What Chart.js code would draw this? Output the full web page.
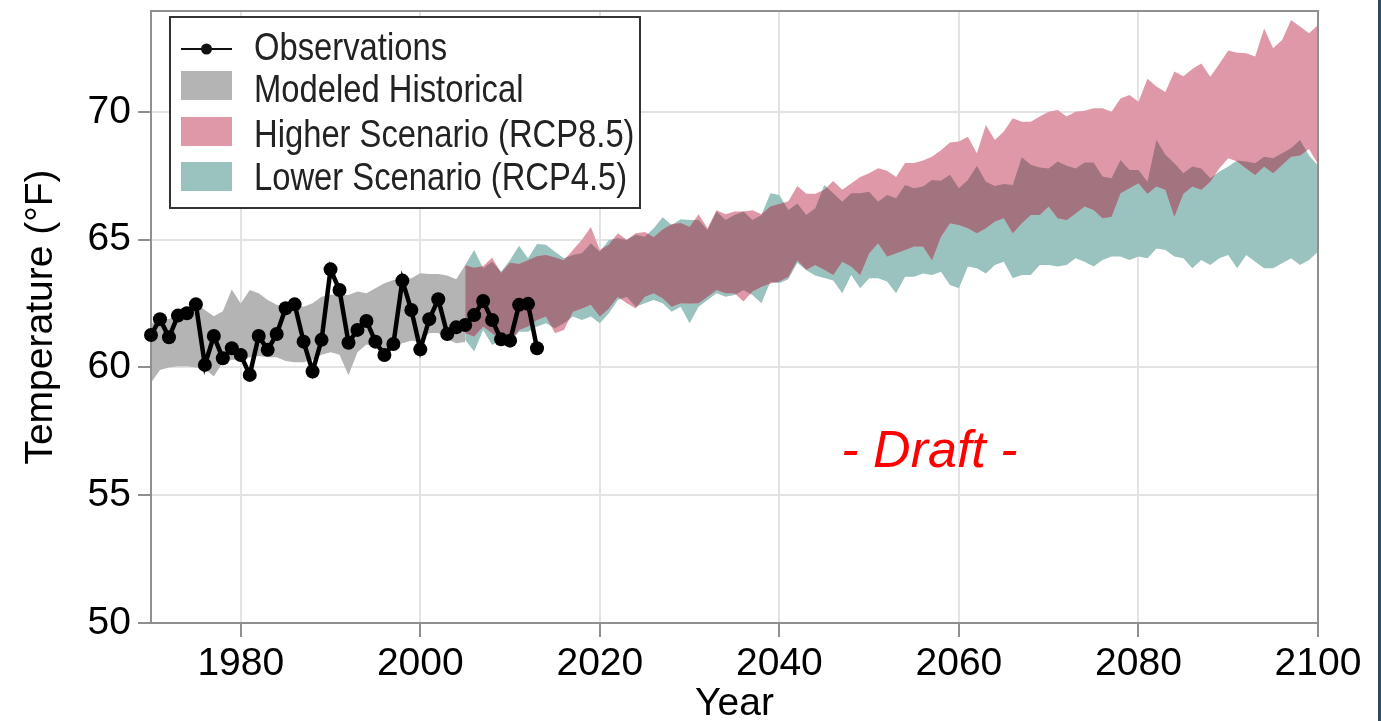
<!DOCTYPE html>
<html>
<head>
<meta charset="utf-8">
<title>Annual Temperature</title>
<script src="https://cdn.jsdelivr.net/npm/chart.js@4.4.1/dist/chart.umd.min.js"></script>
<style>
  html, body { margin: 0; padding: 0; background: #ffffff; overflow: hidden; }
  canvas { display: block; }
</style>
</head>
<body>
<canvas id="chart" width="1381" height="721"></canvas>
<script>
// ---- Data -------------------------------------------------------------
const obsStart = 1970;
const obsTemps = [
  61.27, 61.89, 61.18, 62.03, 62.12, 62.47, 60.10, 61.23, 60.36, 60.75,
  60.49, 59.71, 61.23, 60.69, 61.31, 62.32, 62.47, 61.01, 59.84, 61.08,
  63.84, 63.03, 60.97, 61.47, 61.82, 61.01, 60.49, 60.92, 63.40, 62.25,
  60.71, 61.89, 62.67, 61.31, 61.57, 61.66, 62.05, 62.60, 61.86, 61.10,
  61.05, 62.45, 62.49, 60.75
];

const histStart = 1970;
const histHigh = [
  61.7, 61.9, 61.9, 62.1, 62.2, 62.5, 62.25, 62.0, 62.2, 63.05,
  62.5, 63.03, 62.9, 62.64, 62.45, 62.38, 62.45, 62.38, 62.51, 62.77,
  62.85, 62.85, 62.84, 62.97, 62.9, 63.1, 63.3, 63.42, 63.49, 63.49,
  63.69, 63.66, 63.66, 63.6, 63.45, 64.0
];
const histLow = [
  59.4, 59.9, 60.0, 60.05, 60.05, 60.0, 59.95, 59.65, 60.2, 60.3,
  60.3, 60.4, 60.45, 60.4, 60.4, 60.25, 60.2, 60.2, 60.3, 60.5,
  60.6, 60.5, 59.7, 60.6, 60.9, 60.8, 60.7, 60.85, 60.95, 61.05,
  61.0, 61.35, 61.35, 61.1, 60.95, 61.0
];

const projStart = 2005;
const rcp85High = [
  64.0, 63.9, 63.96, 64.3, 63.7, 64.1, 64.05, 64.2, 64.35, 64.4,
  64.3, 64.2, 64.6, 65.0, 65.5, 64.6, 64.8, 65.25, 65.0, 65.25,
  65.3, 65.1, 65.4, 65.6, 65.65, 65.5, 66.0, 65.45, 66.15, 66.0,
  66.1, 66.1, 66.15, 66.0, 66.3, 66.4, 66.5, 67.1, 66.8, 66.8,
  66.95, 67.3, 66.95, 67.2, 67.45, 67.6, 67.8, 67.7, 67.45, 68.0,
  68.0, 68.1, 68.25, 68.5, 68.8, 68.84, 69.03, 68.38, 69.49, 68.9,
  69.23, 69.75, 69.62, 69.62, 69.82, 70.01, 70.08, 69.82, 70.01, 70.05,
  70.14, 70.14, 70.01, 70.53, 70.66, 70.4, 71.3, 71.0, 70.78, 71.58,
  71.4, 71.68, 71.9, 71.38, 71.88, 72.4, 72.32, 72.3, 72.17, 73.27,
  72.49, 72.82, 73.6, 73.34, 73.08, 73.4
];
const rcp85Low = [
  61.34, 61.21, 61.6, 61.34, 61.08, 61.01, 61.47, 61.6, 61.86, 61.99,
  61.34, 61.47, 62.18, 62.31, 62.45, 61.99, 62.31, 62.77, 62.51, 62.31,
  62.77, 62.9, 62.71, 62.38, 62.51, 62.5, 62.51, 62.77, 63.03, 62.9,
  62.9, 62.58, 62.97, 63.16, 63.29, 63.36, 63.55, 64.2, 63.82, 64.01,
  63.82, 63.62, 64.14, 63.95, 63.62, 64.47, 64.86, 64.34, 64.47, 64.6,
  64.73, 64.73, 64.2, 65.12, 65.64, 65.58, 65.45, 65.25, 65.45, 65.71,
  65.84, 65.25, 65.64, 65.97, 65.97, 66.3, 65.84, 65.77, 66.03, 66.3,
  66.16, 65.84, 65.9, 66.82, 67.01, 67.21, 66.8, 67.08, 66.95, 65.9,
  66.8, 67.08, 66.95, 67.27, 67.79, 68.19, 68.06, 67.79, 67.53, 67.86,
  67.6, 67.92, 68.25, 68.3, 68.55, 67.95
];
const rcp45High = [
  64.01, 64.6, 63.88, 64.14, 63.75, 64.21, 64.76, 64.27, 64.83, 64.8,
  64.53, 64.27, 64.4, 64.47, 64.86, 64.53, 64.99, 65.06, 64.99, 65.19,
  65.12, 65.45, 65.88, 65.58, 65.8, 65.77, 65.77, 65.38, 66.1, 65.77,
  65.97, 66.1, 65.77, 65.97, 66.82, 66.75, 66.16, 66.42, 65.97, 66.23,
  67.14, 66.82, 66.49, 66.82, 66.82, 66.88, 66.49, 66.75, 66.62, 67.14,
  67.01, 67.08, 67.34, 67.31, 67.54, 67.01, 67.34, 67.89, 67.27, 67.1,
  67.18, 67.14, 68.23, 67.93, 67.83, 67.79, 68.06, 67.89, 67.79, 68.02,
  68.02, 67.47, 67.4, 68.12, 67.73, 67.73, 67.27, 68.9, 68.32, 67.99,
  67.6, 67.86, 67.79, 67.4, 67.66, 67.86, 68.1, 68.06, 67.99, 68.25,
  68.19, 68.38, 68.58, 68.9, 68.3, 67.9
];
const rcp45Low = [
  61.08, 60.62, 61.47, 60.88, 61.08, 61.01, 61.4, 61.4, 61.6, 61.73,
  61.53, 61.73, 61.99, 61.86, 61.99, 61.73, 62.12, 62.64, 62.77, 62.38,
  62.51, 62.64, 62.51, 62.18, 62.38, 61.73, 62.38, 62.64, 62.9, 62.77,
  62.84, 63.03, 62.84, 62.51, 63.35, 63.3, 63.45, 64.1, 63.8, 63.6,
  63.5, 63.4, 62.9, 63.62, 63.1, 63.49, 63.49, 63.36, 62.9, 63.55,
  63.55, 63.68, 63.62, 63.75, 63.23, 63.1, 63.95, 63.88, 63.68, 64.01,
  64.14, 63.49, 63.62, 63.62, 64.01, 64.01, 63.95, 64.01, 64.27, 64.14,
  63.95, 64.21, 64.34, 64.34, 64.21, 64.34, 64.27, 64.66, 64.6, 64.34,
  64.27, 63.88, 64.21, 64.01, 64.27, 64.4, 63.88, 64.4, 64.14, 63.88,
  63.88, 64.08, 64.27, 64.01, 64.21, 64.53
];

const xTicks = [1980, 2000, 2020, 2040, 2060, 2080, 2100];
const yTicks = [50, 55, 60, 65, 70];
const seriesNames = [
  'Observations',
  'Modeled Historical',
  'Higher Scenario (RCP8.5)',
  'Lower Scenario (RCP4.5)'
];
const draftLabel = '- Draft -';

// ---- Styling ----------------------------------------------------------
const FONT = "'Liberation Sans', Arial, Helvetica, sans-serif";
const GRAY = '#b4b4b4';
const PINK = '#df98a8';
const TEAL = '#9ac2be';
const MAUVE = '#a17480';
const GRID = '#e3e3e3';
const AXIS = '#8f8f8f';

const toPoints = (start, vals) => vals.map((v, i) => ({ x: start + i, y: v }));

const bandStyle = (color, fill) => ({
  fill: fill,
  backgroundColor: color,
  borderColor: 'rgba(0,0,0,0)',
  borderWidth: 1,
  pointRadius: 0,
  pointHoverRadius: 0,
  tension: 0
});

// ---- Plugins ----------------------------------------------------------
function bandPath(ctx, upper, lower) {
  ctx.beginPath();
  upper.forEach((p, i) => (i ? ctx.lineTo(p.x, p.y) : ctx.moveTo(p.x, p.y)));
  for (let i = lower.length - 1; i >= 0; i--) ctx.lineTo(lower[i].x, lower[i].y);
  ctx.closePath();
}

// Darker tone where the two scenario ranges overlap
const overlapPlugin = {
  id: 'scenarioOverlap',
  afterDatasetDraw(chart, args) {
    if (args.index !== 3) return;
    const ctx = chart.ctx, a = chart.chartArea;
    ctx.save();
    ctx.beginPath();
    ctx.rect(a.left, a.top, a.right - a.left, a.bottom - a.top);
    ctx.clip();
    bandPath(ctx, chart.getDatasetMeta(5).data, chart.getDatasetMeta(6).data);
    ctx.clip();
    bandPath(ctx, chart.getDatasetMeta(3).data, chart.getDatasetMeta(4).data);
    ctx.fillStyle = MAUVE;
    ctx.fill();
    ctx.restore();
  }
};

// Frame around the plot area
const framePlugin = {
  id: 'plotFrame',
  beforeDatasetDraw(chart, args) {
    if (args.index !== 0) return;
    const ctx = chart.ctx, a = chart.chartArea;
    ctx.save();
    ctx.strokeStyle = AXIS;
    ctx.lineWidth = 2;
    ctx.strokeRect(a.left, a.top, a.right - a.left, a.bottom - a.top);
    ctx.restore();
  }
};

// Boxed legend, draft stamp and page edge
const overlayPlugin = {
  id: 'overlay',
  afterDraw(chart) {
    const ctx = chart.ctx;
    const xs = chart.scales.x, ys = chart.scales.y;
    ctx.save();

    // draft stamp
    ctx.font = 'italic 52px ' + FONT;
    ctx.fillStyle = '#ff0000';
    ctx.textAlign = 'left';
    ctx.textBaseline = 'alphabetic';
    ctx.fillText(draftLabel, xs.getPixelForValue(2046.9), ys.getPixelForValue(56.1));

    // legend box
    const bx = 170, by = 17, bw = 470, bh = 191;
    ctx.fillStyle = '#ffffff';
    ctx.fillRect(bx, by, bw, bh);
    ctx.strokeStyle = '#333333';
    ctx.lineWidth = 2;
    ctx.strokeRect(bx, by, bw, bh);

    const sx = 181, sw = 51, tx = 254;
    const rows = [
      { kind: 'line', base: 60 },
      { kind: 'box', color: GRAY, base: 102, top: 71 },
      { kind: 'box', color: PINK, base: 147, top: 117 },
      { kind: 'box', color: TEAL, base: 190, top: 162 }
    ];
    rows.forEach((r, i) => {
      if (r.kind === 'line') {
        ctx.strokeStyle = '#111';
        ctx.lineWidth = 2;
        ctx.beginPath();
        ctx.moveTo(sx, 49);
        ctx.lineTo(sx + sw, 49);
        ctx.stroke();
        ctx.fillStyle = '#111';
        ctx.beginPath();
        ctx.arc(sx + sw / 2, 49, 5.5, 0, Math.PI * 2);
        ctx.fill();
      } else {
        ctx.fillStyle = r.color;
        ctx.fillRect(sx, r.top, sw, 29);
      }
      ctx.save();
      ctx.font = '39px ' + FONT;
      ctx.fillStyle = '#222';
      ctx.textAlign = 'left';
      ctx.textBaseline = 'alphabetic';
      const k = 0.84;
      ctx.scale(k, 1);
      ctx.fillText(seriesNames[i], tx / k, r.base);
      ctx.restore();
    });

    // page edge
    ctx.fillStyle = '#2c4a60';
    ctx.fillRect(1378, 0, 3, 721);
    ctx.restore();
  }
};

// ---- Chart ------------------------------------------------------------
Chart.defaults.font.family = FONT;

new Chart(document.getElementById('chart'), {
  type: 'line',
  data: {
    datasets: [
      {
        label: seriesNames[0],
        data: toPoints(obsStart, obsTemps),
        borderColor: '#000',
        backgroundColor: '#000',
        borderWidth: 4.5,
        pointRadius: 7,
        pointBorderWidth: 0,
        pointBackgroundColor: '#000',
        fill: false,
        tension: 0,
        clip: false
      },
      Object.assign({ label: seriesNames[1], data: toPoints(histStart, histHigh) }, bandStyle(GRAY, '+1')),
      Object.assign({ label: 'hist-low', data: toPoints(histStart, histLow) }, bandStyle(GRAY, false)),
      Object.assign({ label: seriesNames[2], data: toPoints(projStart, rcp85High) }, bandStyle(PINK, '+1')),
      Object.assign({ label: 'rcp85-low', data: toPoints(projStart, rcp85Low) }, bandStyle(PINK, false)),
      Object.assign({ label: seriesNames[3], data: toPoints(projStart, rcp45High) }, bandStyle(TEAL, '+1')),
      Object.assign({ label: 'rcp45-low', data: toPoints(projStart, rcp45Low) }, bandStyle(TEAL, false))
    ]
  },
  options: {
    responsive: false,
    animation: false,
    devicePixelRatio: 1,
    events: [],
    layout: { padding: { left: 0, top: 11, right: 63, bottom: 0 } },
    plugins: {
      legend: { display: false },
      tooltip: { enabled: false },
      filler: { propagate: false }
    },
    scales: {
      x: {
        type: 'linear',
        min: 1970,
        max: 2100,
        afterBuildTicks: s => { s.ticks = xTicks.map(v => ({ value: v })); },
        afterFit: s => { s.height = 98; s.paddingLeft = 0; s.paddingRight = 0; },
        grid: { color: GRID, lineWidth: 2, tickColor: AXIS, tickWidth: 2, tickLength: 14 },
        border: { display: true, color: AXIS, width: 2 },
        ticks: {
          color: '#000',
          font: { size: 39 },
          padding: 4,
          maxRotation: 0,
          autoSkip: false,
          callback: v => String(v)
        },
        title: {
          display: true,
          text: 'Year',
          color: '#000',
          font: { size: 39 },
          padding: { top: 0, bottom: -7 }
        }
      },
      y: {
        type: 'linear',
        min: 50,
        max: 73.95,
        afterBuildTicks: s => { s.ticks = yTicks.map(v => ({ value: v })); },
        afterFit: s => { s.width = 151; s.paddingTop = 0; s.paddingBottom = 0; },
        grid: { color: GRID, lineWidth: 2, tickColor: AXIS, tickWidth: 2, tickLength: 13 },
        border: { display: true, color: AXIS, width: 2 },
        ticks: {
          color: '#000',
          font: { size: 39 },
          padding: 7,
          callback: v => String(v)
        },
        title: {
          display: true,
          text: 'Temperature (°F)',
          color: '#000',
          font: { size: 39 },
          padding: { top: 18, bottom: 0 }
        }
      }
    }
  },
  plugins: [overlapPlugin, framePlugin, overlayPlugin]
});
</script>
</body>
</html>
